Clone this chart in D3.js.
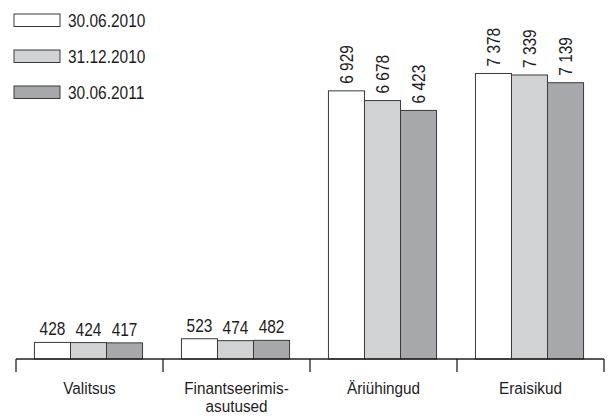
<!DOCTYPE html>
<html>
<head>
<meta charset="utf-8">
<script src="https://cdn.jsdelivr.net/npm/d3@7"></script>
<style>
  html, body { margin: 0; padding: 0; background: #fff; }
  svg { display: block; }
  text { font-family: "Liberation Sans", Arial, sans-serif; font-size: 18px; fill: #1e1c1d; }
  text.cat { font-size: 17px; }
</style>
</head>
<body>
<svg id="chart" width="608" height="416"></svg>
<script>
// Categories (two-line label for the second group)
const categories = ["Valitsus", "Finantseerimis-\nasutused", "Äriühingud", "Eraisikud"];
// Reporting dates
const seriesNames = ["30.06.2010", "31.12.2010", "30.06.2011"];
// Values per date, in category order
const values2010H1 = [428, 523, 6929, 7378];
const values2010H2 = [424, 474, 6678, 7339];
const values2011H1 = [417, 482, 6423, 7139];
const seriesColors = ["#ffffff", "#d1d2d4", "#a7a8ab"];

const seriesValues = [values2010H1, values2010H2, values2011H1];
const fmtSpace = v => d3.format(",")(v).replace(/,/g, " ");

// Narrow the type horizontally to get a condensed face
const NARROW = 0.86;

const svg = d3.select("#chart");
const baseY = 359;

const x = d3.scaleBand().domain(categories).range([16, 604]).paddingInner(0).paddingOuter(0);
const xs = d3.scaleBand().domain(seriesNames).range([0, x.bandwidth()]).paddingInner(0).paddingOuter(0.54);
const y = d3.scaleLinear().domain([0, 8000]).range([baseY, 49.4]);

const rows = categories.map((c, i) => ({
  cat: c,
  items: seriesNames.map((s, j) => ({ s, j, v: seriesValues[j][i] }))
}));

// Bars
const groups = svg.append("g").selectAll("g").data(rows).join("g")
  .attr("transform", d => `translate(${x(d.cat) - 1},0)`);

groups.selectAll("rect").data(d => d.items).join("rect")
  .attr("x", d => xs(d.s))
  .attr("y", d => y(d.v))
  .attr("width", xs.bandwidth())
  .attr("height", d => baseY - y(d.v))
  .attr("fill", d => seriesColors[d.j])
  .attr("stroke", "#3a3a3a")
  .attr("stroke-width", 1);

// Value labels: horizontal above short bars, vertical above tall ones
groups.selectAll("text.val").data(d => d.items).join("text")
  .attr("class", "val")
  .each(function(d) {
    const t = d3.select(this);
    const cx = xs(d.s) + xs.bandwidth() / 2;
    if (d.v < 1000) {
      t.attr("transform", `translate(${cx},${y(d.v) - 7}) scale(${NARROW},1)`)
        .attr("text-anchor", "middle").text(fmtSpace(d.v));
    } else {
      t.attr("transform", `translate(${cx + 6.5},${y(d.v) - 7}) rotate(-90) scale(${NARROW},1)`)
        .attr("text-anchor", "start").text(fmtSpace(d.v));
    }
  });

// Category axis
const axis = svg.append("g");
axis.append("line")
  .attr("x1", x.range()[0]).attr("x2", x.range()[1])
  .attr("y1", baseY).attr("y2", baseY)
  .attr("stroke", "#231f20").attr("stroke-width", 1.3);

const tickPositions = categories.map(c => x(c)).concat([x.range()[1]]);
axis.selectAll("line.tick").data(tickPositions).join("line")
  .attr("class", "tick")
  .attr("x1", d => d).attr("x2", d => d)
  .attr("y1", baseY).attr("y2", baseY + 13)
  .attr("stroke", "#231f20").attr("stroke-width", 1.3);

axis.selectAll("text.cat").data(categories).join("text")
  .attr("class", "cat")
  .attr("transform", d => `translate(${x(d) + x.bandwidth() / 2},393.5) scale(0.9,1)`)
  .attr("text-anchor", "middle")
  .each(function(d) {
    const lines = d.split("\n");
    d3.select(this).selectAll("tspan").data(lines).join("tspan")
      .attr("x", 0)
      .attr("dy", (l, i) => i === 0 ? 0 : 19)
      .text(l => l);
  });

// Legend
const legend = svg.append("g").selectAll("g").data(seriesNames).join("g")
  .attr("transform", (d, i) => `translate(14,${14 + i * 36})`);
legend.append("rect")
  .attr("width", 46).attr("height", 12.5)
  .attr("fill", (d, i) => seriesColors[i])
  .attr("stroke", "#3a3a3a").attr("stroke-width", 1);
legend.append("text")
  .attr("transform", `translate(54,12.8) scale(${NARROW},1)`)
  .text(d => d);
</script>
</body>
</html>
